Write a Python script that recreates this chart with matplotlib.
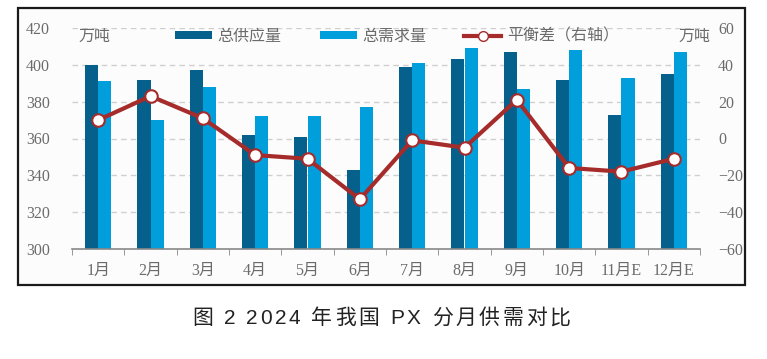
import matplotlib
matplotlib.use("Agg")
import matplotlib.pyplot as plt
import numpy as np
from matplotlib.lines import Line2D
from matplotlib.patches import Patch, Rectangle

months = ["1月", "2月", "3月", "4月", "5月", "6月", "7月", "8月", "9月", "10月", "11月E", "12月E"]
supply = [400, 392, 397, 362, 361, 343, 399, 403, 407, 392, 373, 395]
demand = [391, 370, 388, 372, 372, 377, 401, 409, 387, 408, 393, 407]
balance = [10, 23, 11, -9, -11, -33, -1, -5, 21, -16, -18, -11]
left_ticks = [300, 320, 340, 360, 380, 400, 420]
right_ticks = [-60, -40, -20, 0, 20, 40, 60]
caption = "图 2 2024 年我国 PX 分月供需对比"

c_sup = "#05608C"
c_dem = "#009EDB"
c_line = "#A62B2B"
gray = "#6b6b6b"
serif_cjk = ["Liberation Serif", "Noto Sans CJK SC"]

W, H = 767, 359
fig = plt.figure(figsize=(W / 100, H / 100), dpi=100)
fig.patch.set_facecolor("white")
fig.add_artist(Rectangle((18/W, 74/H), 727/W, 277/H, transform=fig.transFigure,
                         facecolor="#fcfcfc", edgecolor="#1a1a1a", linewidth=1.6, zorder=0))

ax = fig.add_axes([72/W, 110/H, 628/W, 221/H])
ax.set_facecolor("none")
x = np.arange(len(months))
w = 0.25
ax.bar(x - w/2, supply, width=w, color=c_sup, zorder=2)
ax.bar(x + w/2, demand, width=w, color=c_dem, zorder=2)
ax.set_ylim(300, 420)
ax.set_xlim(-0.5, len(months) - 0.5)
ax.set_yticks(left_ticks)
for v in left_ticks[1:]:
    ax.axhline(v, color="#cfcfcf", linestyle=(0, (4, 3)), linewidth=1.0, zorder=1)
for s in ["top", "left", "right"]:
    ax.spines[s].set_visible(False)
ax.spines["bottom"].set_color("#888888")
ax.spines["bottom"].set_linewidth(1.2)
ax.tick_params(axis="y", length=0, pad=16, labelcolor=gray, labelsize=11.5)
ax.set_xticks(x)
ax.set_xticklabels(months)
ax.set_xticks(np.arange(-0.5, len(months), 1.0), minor=True)
ax.tick_params(axis="x", which="major", length=0, pad=10, labelcolor=gray, labelsize=11.5)
ax.tick_params(axis="x", which="minor", length=4, color="#888888", direction="out")
for lab in ax.get_xticklabels() + ax.get_yticklabels():
    lab.set_family(serif_cjk)

ax2 = ax.twinx()
ax2.set_ylim(-60, 60)
ax2.set_yticks(right_ticks)
ax2.plot(x, balance, color=c_line, linewidth=3, marker="o", markersize=9,
         markerfacecolor="white", markeredgecolor=c_line, markeredgewidth=1.5, zorder=3)
for s in ["top", "left", "right", "bottom"]:
    ax2.spines[s].set_visible(False)
ax2.tick_params(axis="y", length=0, pad=13, labelcolor=gray, labelsize=11.5)
for lab in ax2.get_yticklabels():
    lab.set_family(serif_cjk)

handles = [Patch(facecolor=c_sup), Patch(facecolor=c_dem),
           Line2D([0], [0], color=c_line, linewidth=3, marker="o", markersize=7,
                  markerfacecolor="white", markeredgecolor=c_line)]
labels = ["总供应量", "总需求量", "平衡差（右轴）"]
leg = fig.legend(handles, labels, loc="center", bbox_to_anchor=(397/W, 1 - 36/H), ncol=3,
                 frameon=False, handlelength=2.3, handleheight=0.42, columnspacing=2.4,
                 handletextpad=0.35, prop={"family": "Noto Sans CJK SC", "size": 11.5})
for t in leg.get_texts():
    t.set_color(gray)

fig.text(78/W, 1 - 36/H, "万吨", ha="left", va="center", color=gray,
         family="Noto Sans CJK SC", fontsize=11.5)
fig.text(710/W, 1 - 36/H, "万吨", ha="right", va="center", color=gray,
         family="Noto Sans CJK SC", fontsize=11.5)

# caption with letter spacing
renderer = fig.canvas.get_renderer()
track = 2.6
cap_fam = ["Liberation Sans", "Noto Sans CJK SC"]
cap_size = 15
widths = []
for ch in caption:
    t = fig.text(0, 0, ch if ch != " " else "a", family=cap_fam, fontsize=cap_size)
    bb = t.get_window_extent(renderer)
    wch = bb.width if ch != " " else cap_size * 100 / 72 * 0.278
    widths.append(wch)
    t.remove()
total = sum(widths) + track * (len(caption) - 1)
xpos = 381 - total / 2
for ch, wch in zip(caption, widths):
    if ch != " ":
        fig.text(xpos / W, 1 - 318/H, ch, ha="left", va="center", color="#222222",
                 family=cap_fam, fontsize=cap_size)
    xpos += wch + track

fig.savefig("out.png", dpi=100)
